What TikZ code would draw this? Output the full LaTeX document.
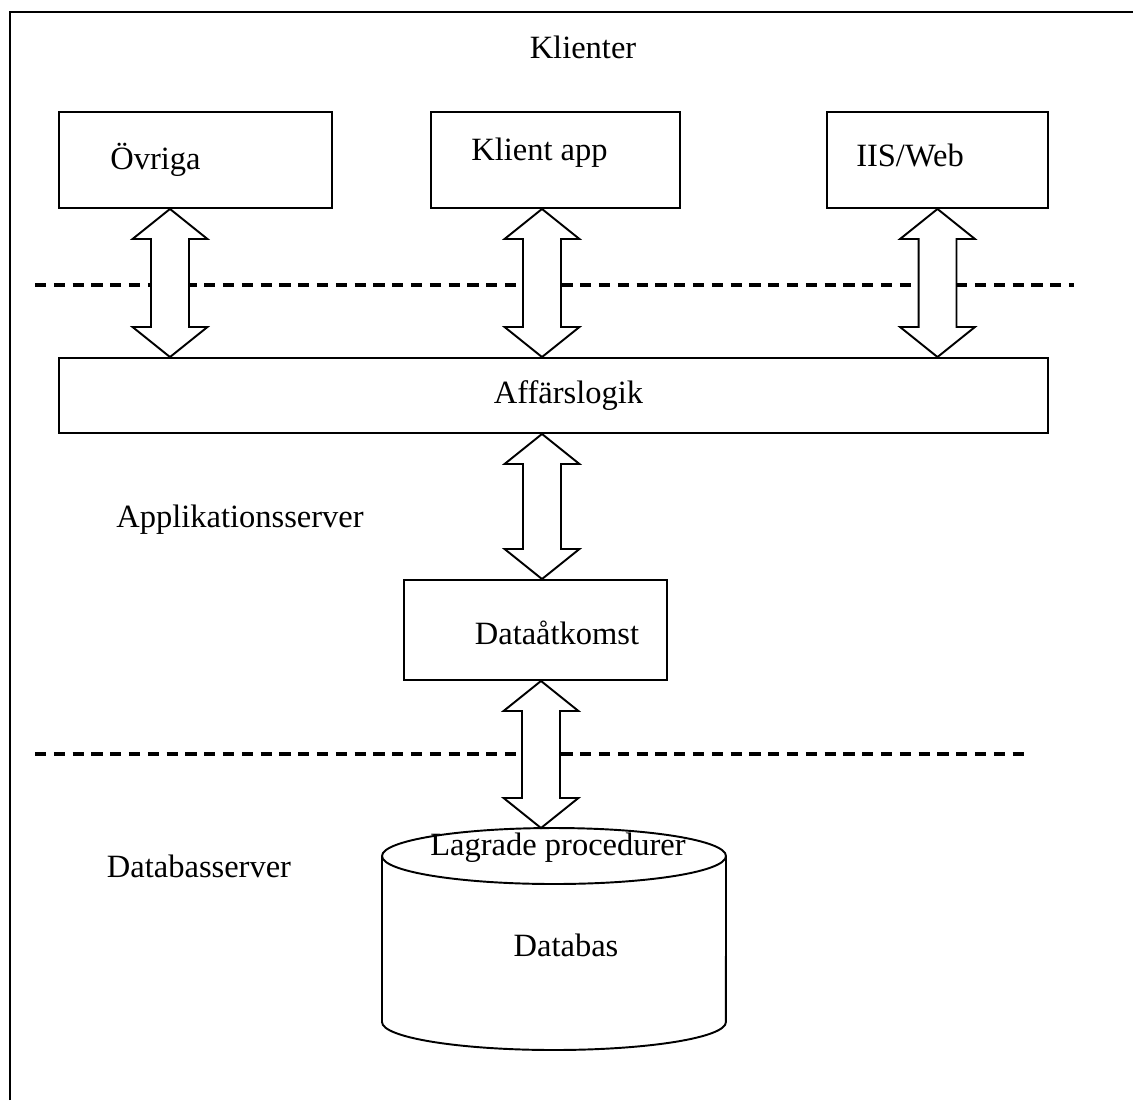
\documentclass[tikz,border=0pt]{standalone}
\usepackage{fontspec}
\setmainfont{Liberation Serif}
\usetikzlibrary{calc}

\tikzset{
  box/.style={draw, line width=1.1pt, inner sep=0pt},
  pipe/.style={draw, line width=1.1pt, fill=white, line join=miter},
  tier/.style={line width=2.6pt, dash pattern=on 6.4pt off 4.3pt},
}

\def\hw{21.3pt}
\def\hl{17.1pt}
\def\sw{10.8pt}
\newcommand{\duplex}[2]{%
  \draw[pipe] let \p1=(#1), \p2=(#2) in
    (\x1,\y1) -- (\x1+\hw,\y1-\hl) -- (\x1+\sw,\y1-\hl) -- (\x1+\sw,\y2+\hl)
    -- (\x1+\hw,\y2+\hl) -- (\x1,\y2) -- (\x1-\hw,\y2+\hl) -- (\x1-\sw,\y2+\hl)
    -- (\x1-\sw,\y1-\hl) -- (\x1-\hw,\y1-\hl) -- cycle;}

\begin{document}
\begin{tikzpicture}[x=0.02cm, y=-0.02cm, font=\fontsize{18.5}{22}\selectfont]
		\useasboundingbox (0,0) rectangle (1133,1100);
		\draw[line width=1.3pt] (10,1100) -- (10,12) -- (1133,12);
		\node (klienter) at (583,47) {Klienter};
		\node[box, minimum width=5.46cm, minimum height=1.92cm, label={[xshift=-0.8cm]center:Övriga}] (ovriga) at (195.5,160) {};
		\node[box, minimum width=4.98cm, minimum height=1.92cm, label={[xshift=-0.32cm, yshift=0.14cm]center:Klient app}] (klientapp) at (555.5,160) {};
		\node[box, minimum width=4.42cm, minimum height=1.92cm, label={[xshift=-0.55cm, yshift=0.1cm]center:IIS/Web}] (iisweb) at (937.5,160) {};
		\node[box, minimum width=19.78cm, minimum height=1.5cm, label={[xshift=0.3cm]center:Affärslogik}] (logik) at (553.5,395.5) {};
		\node (appserver) at (240,520) {Applikationsserver};
		\node[box, minimum width=5.26cm, minimum height=2cm, label={[xshift=0.43cm, yshift=-0.06cm]center:Dataåtkomst}] (dataacc) at (535.5,630) {};
		\node (dbserver) at (199,866) {Databasserver};
		\draw[tier] (35,285) -- (1074,285);
		\draw[tier] (35,754) -- (1025,754);
		\draw[line width=1.1pt, fill=white] (382,856) -- (382,1022) arc[start angle=180, end angle=360, x radius=3.44cm, y radius=0.56cm] -- (726,856);
		\draw[line width=1.1pt, fill=white] (554,856) ellipse [x radius=3.44cm, y radius=0.56cm];
		\coordinate (dbtop) at (554,828);
		\node (lagrade) at (558,848) {Lagrade procedurer};
		\node (databas) at (566,945) {Databas};
		\coordinate (c1) at (170,0);
		\coordinate (c2) at (542,0);
		\coordinate (c3) at (937.5,0);
		\coordinate (c4) at (541,0);
		\duplex{c1 |- ovriga.south}{c1 |- logik.north}
		\duplex{c2 |- klientapp.south}{c2 |- logik.north}
		\duplex{c3 |- iisweb.south}{c3 |- logik.north}
		\duplex{c2 |- logik.south}{c2 |- dataacc.north}
		\duplex{c4 |- dataacc.south}{c4 |- dbtop}
\end{tikzpicture}
\end{document}
